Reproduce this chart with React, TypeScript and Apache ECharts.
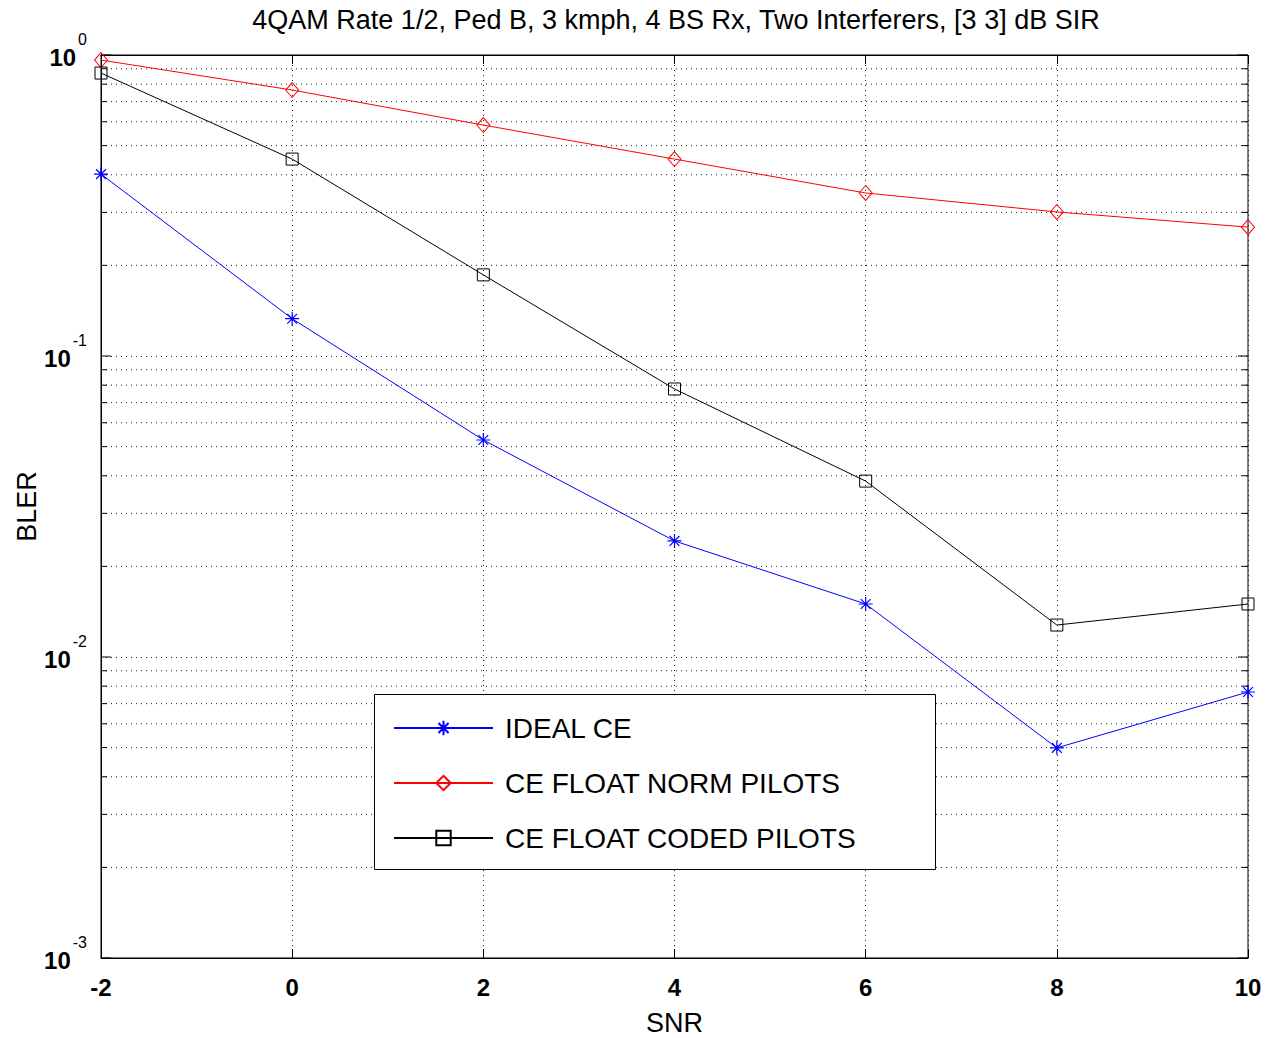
import React, { useEffect, useRef } from 'react';
import * as echarts from 'echarts';

const snr = [-2, 0, 2, 4, 6, 8, 10];
const idealCE = [0.402, 0.133, 0.0526, 0.0243, 0.015, 0.00499, 0.00765];
const normPilots = [0.962, 0.765, 0.585, 0.451, 0.348, 0.301, 0.268];
const codedPilots = [0.871, 0.451, 0.186, 0.0777, 0.0384, 0.01277, 0.015];
const seriesNames = ['IDEAL CE', 'CE FLOAT NORM PILOTS', 'CE FLOAT CODED PILOTS'];
const decades = [0.001, 0.01, 0.1];
const minorMultipliers = [2, 3, 4, 5, 6, 7, 8, 9];
const titleText = '4QAM Rate 1/2, Ped B, 3 kmph, 4 BS Rx, Two Interferers, [3 3] dB SIR';

const FONT = '"Liberation Sans", Arial, Helvetica, sans-serif';
const ASTERISK = 'path://M0,-10L0,10M-10,0L10,0M-7,-7L7,7M-7,7L7,-7';

export default function App() {
  const ref = useRef<HTMLDivElement>(null);
  useEffect(() => {
    if (!ref.current) return;
    const chart = echarts.init(ref.current, null, { renderer: 'svg' });

    const yTickData: number[][] = [];
    decades.forEach((d) => {
      yTickData.push([-2, d, 1]);
      minorMultipliers.forEach((m) => yTickData.push([-2, +(d * m).toPrecision(3), 0]));
    });
    yTickData.push([-2, 1, 1]);

    const dotted = { color: '#222', width: 1, type: [1, 4] as any };

    chart.setOption({
      animation: false,
      backgroundColor: '#fff',
      title: {
        text: titleText,
        left: 671,
        top: 1,
        textAlign: 'center',
        textStyle: { fontFamily: FONT, fontSize: 27, fontWeight: 'normal', color: '#000' },
      },
      grid: {
        left: 101,
        top: 55,
        right: 20,
        bottom: 80,
        containLabel: false,
        outerBoundsMode: 'none',
        show: true,
        borderColor: '#000',
        borderWidth: 1,
        backgroundColor: '#fff',
      },
      legend: {
        data: seriesNames,
        orient: 'vertical',
        left: 393,
        top: 709,
        padding: 0,
        itemWidth: 99,
        itemHeight: 18,
        itemGap: 17,
        z: 60,
        selectedMode: false,
        textStyle: {
          fontFamily: FONT,
          fontSize: 28,
          color: '#000',
          lineHeight: 28,
          padding: [10, 0, 0, 7],
        },
      },
      graphic: [
        {
          type: 'rect',
          left: 374,
          top: 694,
          z: 50,
          shape: { width: 561, height: 175 },
          style: { fill: '#fff', stroke: '#000', lineWidth: 1 },
        },
      ],
      xAxis: [
        {
          type: 'value',
          min: -2,
          max: 10,
          interval: 2,
          name: 'SNR',
          nameLocation: 'middle',
          nameGap: 51,
          nameMoveOverlap: false,
          nameTextStyle: { fontFamily: FONT, fontSize: 27, color: '#000' },
          axisLine: { onZero: false, lineStyle: { color: '#000' } },
          axisTick: { inside: true, length: 9, lineStyle: { color: '#000' } },
          axisLabel: { fontFamily: FONT, fontSize: 24, fontWeight: 'bold', color: '#000', margin: 17 },
          splitLine: { show: true, lineStyle: dotted },
        },
        {
          type: 'value',
          position: 'top',
          min: -2,
          max: 10,
          interval: 2,
          axisLine: { onZero: false, lineStyle: { color: '#000' } },
          axisTick: { inside: true, length: 9, lineStyle: { color: '#000' } },
          axisLabel: { show: false },
          splitLine: { show: false },
        },
      ],
      yAxis: {
        type: 'log',
        logBase: 10,
        min: 0.001,
        max: 1,
        name: 'BLER',
        nameLocation: 'middle',
        nameGap: 61,
        nameMoveOverlap: false,
        nameTextStyle: { fontFamily: FONT, fontSize: 27, color: '#000' },
        axisLine: { onZero: false, lineStyle: { color: '#000' } },
        axisTick: { show: false },
        axisLabel: {
          margin: 14,
          formatter: (v: number) => `{b|10}{s|${Math.round(Math.log10(v))}}`,
          rich: {
            b: {
              fontFamily: FONT,
              fontSize: 24,
              fontWeight: 'bold',
              color: '#000',
              verticalAlign: 'bottom',
              padding: [0, 0, 9, 0],
            },
            s: {
              fontFamily: FONT,
              fontSize: 16,
              color: '#000',
              verticalAlign: 'bottom',
              padding: [0, 0, 31, 2],
            },
          },
        },
        splitLine: { show: true, lineStyle: dotted },
      },
      series: [
        {
          name: 'yticks',
          type: 'custom',
          silent: true,
          z: 1,
          encode: { x: 0, y: 1 },
          data: yTickData,
          renderItem: (params: any, api: any) => {
            const cs = params.coordSys;
            const p = api.coord([api.value(0), api.value(1)]);
            const major = api.value(2) === 1;
            const len = major ? 10 : 6;
            const y = p[1];
            const children: any[] = [];
            if (!major) {
              children.push({
                type: 'line',
                shape: { x1: cs.x, y1: y, x2: cs.x + cs.width, y2: y },
                style: { stroke: '#222', lineWidth: 1, lineDash: [1, 4] },
              });
            }
            children.push({
              type: 'line',
              shape: { x1: cs.x, y1: y, x2: cs.x + len, y2: y },
              style: { stroke: '#000', lineWidth: 1 },
            });
            children.push({
              type: 'line',
              shape: { x1: cs.x + cs.width - len, y1: y, x2: cs.x + cs.width, y2: y },
              style: { stroke: '#000', lineWidth: 1 },
            });
            return { type: 'group', children };
          },
        },
        {
          name: seriesNames[0],
          type: 'line',
          data: snr.map((x, i) => [x, idealCE[i]]),
          symbol: ASTERISK,
          symbolSize: 14,
          color: '#0000ff',
          lineStyle: { color: '#0000ff', width: 1 },
          itemStyle: { color: '#0000ff', borderColor: '#0000ff', borderWidth: 1.2 },
          z: 3,
        },
        {
          name: seriesNames[1],
          type: 'line',
          data: snr.map((x, i) => [x, normPilots[i]]),
          symbol: 'diamond',
          symbolSize: [13, 15],
          color: '#ff0000',
          lineStyle: { color: '#ff0000', width: 1 },
          itemStyle: { color: 'rgba(255,255,255,0)', borderColor: '#ff0000', borderWidth: 1 },
          z: 3,
        },
        {
          name: seriesNames[2],
          type: 'line',
          data: snr.map((x, i) => [x, codedPilots[i]]),
          symbol: 'rect',
          symbolSize: 12,
          color: '#000000',
          lineStyle: { color: '#000000', width: 1 },
          itemStyle: { color: 'rgba(255,255,255,0)', borderColor: '#000000', borderWidth: 1 },
          z: 3,
        },
      ],
    });
    return () => chart.dispose();
  }, []);
  return (
    <div
      ref={ref}
      style={{ position: 'fixed', left: 0, top: 0, width: 1268, height: 1038, background: '#fff' }}
    />
  );
}
